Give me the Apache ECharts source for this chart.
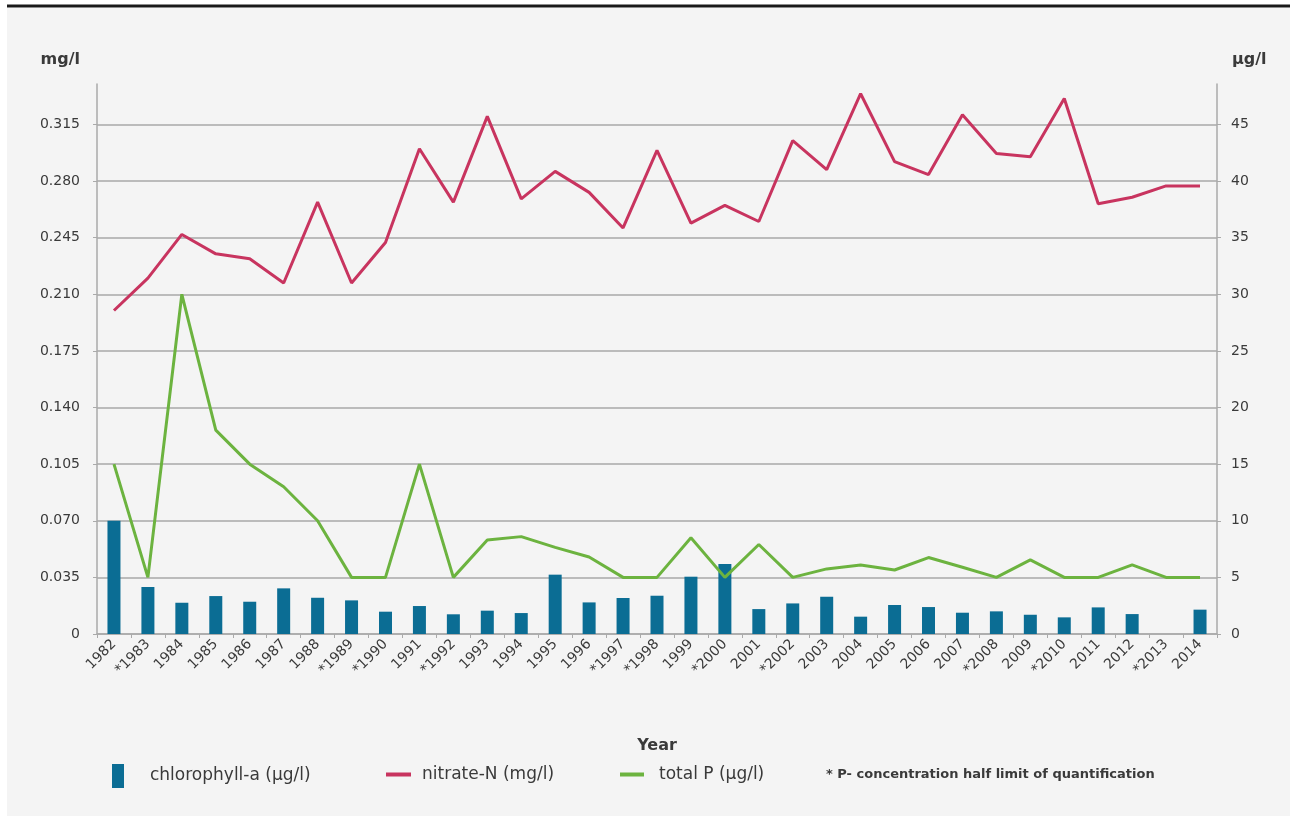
<!DOCTYPE html>
<html>
<head>
<meta charset="utf-8">
<script src="https://cdn.jsdelivr.net/npm/echarts@6/dist/echarts.min.js"></script>
<style>
html,body{margin:0;padding:0;background:#ffffff;}
#chart{width:1290px;height:821px;}
</style>
</head>
<body>
<div id="chart"></div>
<script>
const years = ['1982','*1983','1984','1985','1986','1987','1988','*1989','*1990','1991','*1992','1993','1994','1995','1996','*1997','*1998','1999','*2000','2001','*2002','2003','2004','2005','2006','2007','*2008','2009','*2010','2011','2012','*2013','2014'];
const chlorophyllA = [10.0,4.15,2.76,3.35,2.85,4.03,3.2,2.97,1.97,2.47,1.74,2.06,1.85,5.24,2.79,3.18,3.38,5.06,6.18,2.2,2.7,3.29,1.53,2.56,2.38,1.88,2.0,1.7,1.47,2.35,1.76,null,2.15];
const nitrateN = [0.200,0.220,0.247,0.235,0.232,0.217,0.267,0.217,0.242,0.300,0.267,0.320,0.269,0.286,0.273,0.251,0.299,0.254,0.265,0.255,0.305,0.287,0.334,0.292,0.284,0.321,0.297,0.295,0.331,0.266,0.270,0.277,0.277];
const totalP = [15,5,30,18,15,13,10,5,5,15,5,8.3,8.6,7.65,6.8,5,5,8.5,5,7.9,5,5.75,6.1,5.65,6.75,5.9,5,6.55,5,5,6.1,5,5];
const leftTicks = {min:0, max:0.34, interval:0.035};
const rightTicks = {min:0, max:0.34/0.007, interval:5};

const font = "'DejaVu Sans', 'Open Sans', sans-serif";
const txt = '#3a3a3a';
const chart = echarts.init(document.getElementById('chart'));
const legendText = {fontSize:17, color:txt, fontFamily:font};
chart.setOption({
  backgroundColor: '#ffffff',
  animation: false,
  textStyle: {fontFamily: font},
  graphic: [
    {type:'rect', z:-10, shape:{x:7, y:8, width:1283, height:808}, style:{fill:'#f4f4f4'}},
    {type:'line', z:10, shape:{x1:7, y1:6, x2:1290, y2:6}, style:{stroke:'#1a1a1a', lineWidth:3}},
    {type:'text', left:826, top:768, style:{text:'* P- concentration half limit of quantification', fill:txt, font:"bold 13px 'DejaVu Sans', sans-serif"}}
  ],
  grid: {left:97, right:73, top:84, bottom:187, containLabel:false},
  legend: [
    {data:['chlorophyll-a (µg/l)'], left:112, top:764, icon:'rect', itemWidth:12, itemHeight:24,
     textStyle:Object.assign({padding:[0,0,0,21]}, legendText), padding:0},
    {data:['nitrate-N (mg/l)'], left:386, top:766, icon:'rect', itemWidth:25, itemHeight:4,
     textStyle:Object.assign({padding:[0,0,0,6]}, legendText), padding:0},
    {data:['total P (µg/l)'], left:620, top:766, icon:'rect', itemWidth:24, itemHeight:4,
     textStyle:Object.assign({padding:[0,0,0,10]}, legendText), padding:0}
  ],
  xAxis: {
    type:'category', data: years,
    name:'Year', nameLocation:'middle', nameGap:104,
    nameTextStyle:{fontSize:16, fontWeight:'bold', color:txt},
    axisLine:{lineStyle:{color:'#aaaaaa', width:1.5}},
    axisTick:{show:true, alignWithLabel:false, length:4, lineStyle:{color:'#aaaaaa'}},
    axisLabel:{rotate:45, fontSize:14, color:txt, margin:8, interval:0}
  },
  yAxis: [
    {type:'value', min:leftTicks.min, max:leftTicks.max, interval:leftTicks.interval,
     name:'mg/l', nameLocation:'end', nameGap:16,
     nameTextStyle:{fontSize:16, fontWeight:'bold', color:txt, align:'right', padding:[0,17,0,0]},
     axisLine:{show:true, lineStyle:{color:'#aaaaaa', width:1.5}},
     axisTick:{show:true, length:4, lineStyle:{color:'#aaaaaa'}},
     axisLabel:{fontSize:14, color:txt, margin:17, showMaxLabel:false,
       formatter: v => v === 0 ? '0' : v.toFixed(3)},
     splitLine:{show:true, showMaxLine:false, lineStyle:{color:'#a8a8a8', width:1.5}}
    },
    {type:'value', min:rightTicks.min, max:rightTicks.max, interval:rightTicks.interval,
     name:'µg/l', nameLocation:'end', nameGap:16,
     nameTextStyle:{fontSize:16, fontWeight:'bold', color:txt, align:'left', padding:[0,0,0,15]},
     axisLine:{show:true, lineStyle:{color:'#aaaaaa', width:1.5}},
     axisTick:{show:true, length:4, lineStyle:{color:'#aaaaaa'}},
     axisLabel:{fontSize:14, color:txt, margin:14, showMaxLabel:false,
       formatter: v => String(Math.round(v))},
     splitLine:{show:false}
    }
  ],
  series: [
    {name:'chlorophyll-a (µg/l)', type:'bar', yAxisIndex:1, data:chlorophyllA, barWidth:13,
     itemStyle:{color:'#0b6d94'}},
    {name:'nitrate-N (mg/l)', type:'line', yAxisIndex:0, data:nitrateN, symbol:'none',
     lineStyle:{color:'#c8345f', width:3}, itemStyle:{color:'#c8345f'}},
    {name:'total P (µg/l)', type:'line', yAxisIndex:1, data:totalP, symbol:'none',
     lineStyle:{color:'#6cb33f', width:3}, itemStyle:{color:'#6cb33f'}}
  ]
});
</script>
</body>
</html>
